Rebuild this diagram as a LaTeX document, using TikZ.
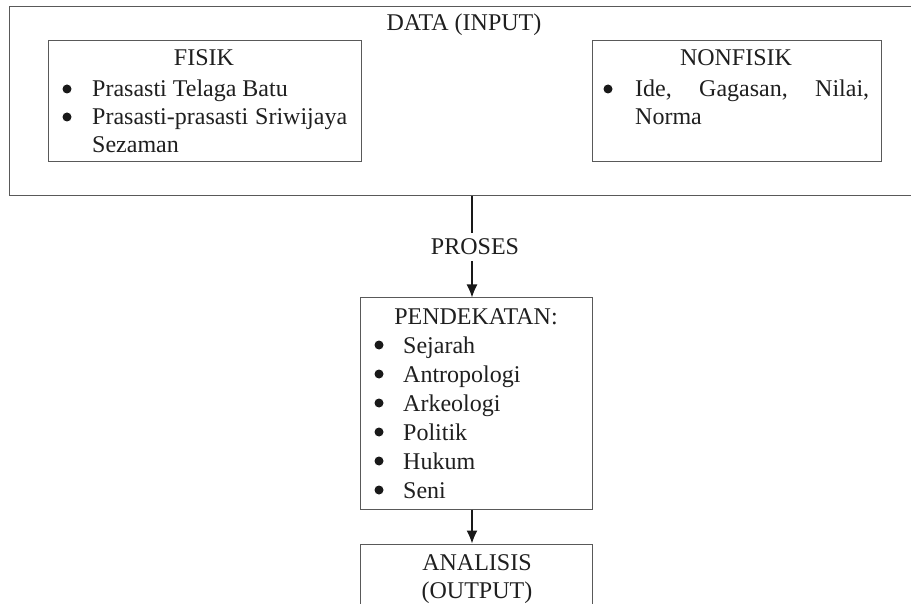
\documentclass[tikz,border=0pt]{standalone}
\usepackage{fontspec}
\setmainfont{Liberation Serif}
\usetikzlibrary{arrows.meta}
\tikzset{
  boxnode/.style={draw=black!65, line width=1pt, rectangle, inner sep=0pt},
  txt/.style={anchor=base, inner sep=0pt, text=black!88, font=\fontsize{24}{29}\selectfont},
  txtw/.style={anchor=base west, inner sep=0pt, text=black!88, font=\fontsize{24}{29}\selectfont},
  bul/.style={circle, fill=black!90, inner sep=0pt, minimum size=9pt},
  conn/.style={draw=black!90, line width=1.3pt},
  arr/.style={conn, -{Latex[length=13pt,width=11pt]}}
}
\begin{document}
\begin{tikzpicture}[x=1pt,y=-1pt]
\useasboundingbox (0,0) rectangle (911,604);
\clip (0,0) rectangle (911,604);
\fill[white] (0,0) rectangle (911,604);
% boxes
\node[boxnode, minimum width=921pt, minimum height=189pt] (outer) at (469.5,101.5) {};
\node[boxnode, minimum width=313pt, minimum height=121pt] (fisik) at (204.5,101.5) {};
\node[boxnode, minimum width=289pt, minimum height=121pt] (nonfisik) at (736.5,101.5) {};
\node[boxnode, minimum width=232pt, minimum height=211pt] (pend) at (476,403.5) {};
\node[boxnode, minimum width=232pt, minimum height=96pt] (ana) at (476,592) {};
% outer title
\node[txt] (tdata) at (464,31) {DATA (INPUT)};
% FISIK
\node[txt] (tfisik) at (204,66) {FISIK};
\node[bul] (bf1) at (67,89) {};
\node[txtw] (f1) at (92,97) {Prasasti Telaga Batu};
\node[bul] (bf2) at (67,117) {};
\node[txtw] (f2) at (92,125) {\makebox[255pt][l]{Prasasti-prasasti\hfill Sriwijaya}};
\node[txtw] (f3) at (92,153) {Sezaman};
% NONFISIK
\node[txt] (tnon) at (736,66) {NONFISIK};
\node[bul] (bn1) at (608,89) {};
\node[txtw] (n1) at (635,97) {\makebox[234pt][l]{Ide,\hfill Gagasan,\hfill Nilai,}};
\node[txtw] (n2) at (635,125) {Norma};
% PROSES
\coordinate (ax) at (472,0);
\node[txt, anchor=center, text height=16pt, text depth=0pt, inner xsep=0pt, inner ysep=6pt] (proses) at (475,247) {PROSES};
% PENDEKATAN
\node[txt] (tpend) at (476,325) {PENDEKATAN:};
\node[bul] (bp1) at (379,345) {};
\node[txtw] (p1) at (403,353) {Sejarah};
\node[bul] (bp2) at (379,374) {};
\node[txtw] (p2) at (403,382) {Antropologi};
\node[bul] (bp3) at (379,403) {};
\node[txtw] (p3) at (403,411) {Arkeologi};
\node[bul] (bp4) at (379,432) {};
\node[txtw] (p4) at (403,440) {Politik};
\node[bul] (bp5) at (379,461) {};
\node[txtw] (p5) at (403,469) {Hukum};
\node[bul] (bp6) at (379,490) {};
\node[txtw] (p6) at (403,498) {Seni};
% ANALISIS
\node[txt] (tana1) at (477,570) {ANALISIS};
\node[txt] (tana2) at (477,598) {(OUTPUT)};
% connectors
\draw[conn] (outer.south -| ax) -- (proses.north -| ax);
\draw[arr] (proses.south -| ax) -- (pend.north -| ax);
\draw[arr] (pend.south -| ax) -- (ana.north -| ax);
\end{tikzpicture}
\end{document}
